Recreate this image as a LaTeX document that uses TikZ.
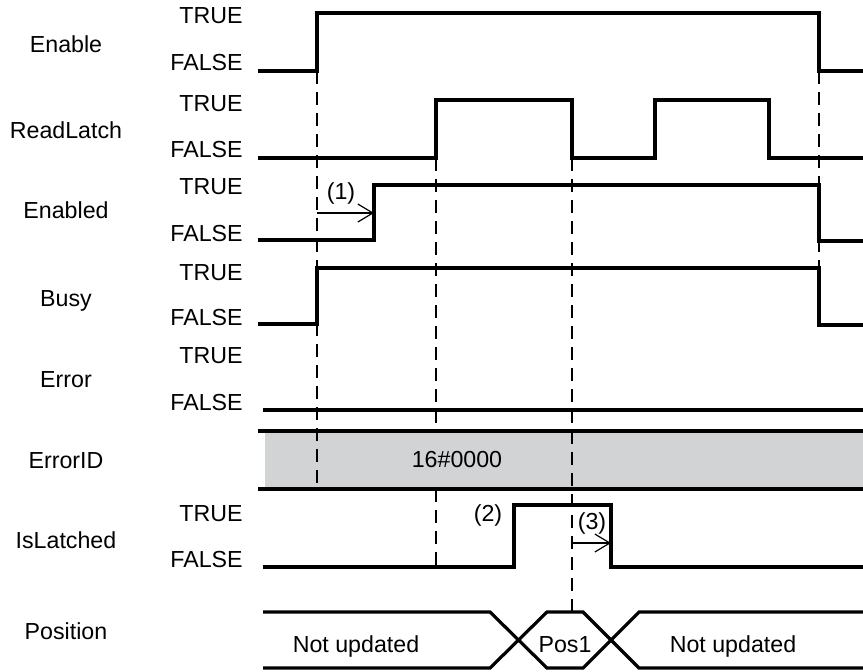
\documentclass[tikz,border=0pt]{standalone}
\usepackage{fontspec}
\setmainfont{Liberation Sans}
\usetikzlibrary{arrows.meta}
\definecolor{bandgray}{RGB}{209,211,212}
\begin{document}
\begin{tikzpicture}[x=0.5pt,y=-0.5pt,
  sig/.style={line width=1.6pt, line join=miter, line cap=butt},
  guide/.style={line width=1.1pt, dash pattern=on 6.5pt off 4pt},
  txt/.style={inner sep=0pt, font=\fontsize{11.6}{13}\selectfont},
  lvl/.style={txt, anchor=base east},
  sname/.style={txt, anchor=base},
  note/.style={txt, anchor=base},
  marrow/.style={line width=0.6pt, -{Straight Barb[length=7.5pt,width=9pt]}}]
\useasboundingbox (0,0) rectangle (863,671);

% ErrorID band fill
\fill[bandgray] (265,431) rectangle (863,489);

% signal names
\node[sname] (nEnable)    at (66,52)  {Enable};
\node[sname] (nReadLatch) at (66,138) {ReadLatch};
\node[sname] (nEnabled)   at (66,218) {Enabled};
\node[sname] (nBusy)      at (66,306) {Busy};
\node[sname] (nError)     at (66,387) {Error};
\node[sname] (nErrorID)   at (66,468) {ErrorID};
\node[sname] (nIsLatched) at (66,548) {IsLatched};
\node[sname] (nPosition)  at (66,639) {Position};

% level labels
\node[lvl] (t1) at (243,23)  {TRUE};
\node[lvl] (f1) at (243,70)  {FALSE};
\node[lvl] (t2) at (243,111) {TRUE};
\node[lvl] (f2) at (243,157) {FALSE};
\node[lvl] (t3) at (243,194) {TRUE};
\node[lvl] (f3) at (243,241) {FALSE};
\node[lvl] (t4) at (243,280) {TRUE};
\node[lvl] (f4) at (243,325) {FALSE};
\node[lvl] (t5) at (243,363) {TRUE};
\node[lvl] (f5) at (243,410) {FALSE};
\node[lvl] (t7) at (243,521) {TRUE};
\node[lvl] (f7) at (243,567) {FALSE};

% guide lines
\draw[guide] (317,71) -- (317,489);
\draw[guide] (436,158) -- (436,431);
\draw[guide] (436,489) -- (436,567);
\draw[guide] (572,158) -- (572,612);
\draw[guide] (819,71) -- (819,268);

% signals
\draw[sig] (258,71) -- (317,71) -- (317,13) -- (819,13) -- (819,71) -- (863,71);
\draw[sig] (258,158) -- (436,158) -- (436,100) -- (572,100) -- (572,158) -- (655,158) -- (655,100) -- (769,100) -- (769,158) -- (863,158);
\draw[sig] (258,240) -- (374,240) -- (374,185) -- (819,185) -- (819,241) -- (863,241);
\draw[sig] (258,324) -- (317,324) -- (317,268) -- (819,268) -- (819,325) -- (863,325);
\draw[sig] (263,410) -- (863,410);
\draw[sig] (258,431) -- (863,431);
\draw[sig] (258,489) -- (863,489);
\draw[sig] (263,567) -- (514,567) -- (514,505) -- (611,505) -- (611,567) -- (863,567);
\draw[sig] (263,612) -- (490,612) -- (547,668) -- (583,668) -- (639,612) -- (863,612);
\draw[sig] (263,668) -- (490,668) -- (547,612) -- (583,612) -- (639,668) -- (863,668);

% values
\node[note] (v0) at (457,467) {16\#0000};
\node[note] (p1) at (356,652) {Not updated};
\node[note] (p2) at (565,652) {Pos1};
\node[note] (p3) at (733,652) {Not updated};

% delay arrows
\coordinate (a1s) at (317,213);
\coordinate (a1e) at (374,213);
\draw[marrow] (a1s) -- (a1e);
\node[note] (l1) at (341,199) {(1)};
\node[note] (l2) at (488,521) {(2)};
\coordinate (a3s) at (572,543);
\coordinate (a3e) at (611,543);
\draw[marrow] (a3s) -- (a3e);
\node[note] (l3) at (592,529) {(3)};
\end{tikzpicture}
\end{document}
